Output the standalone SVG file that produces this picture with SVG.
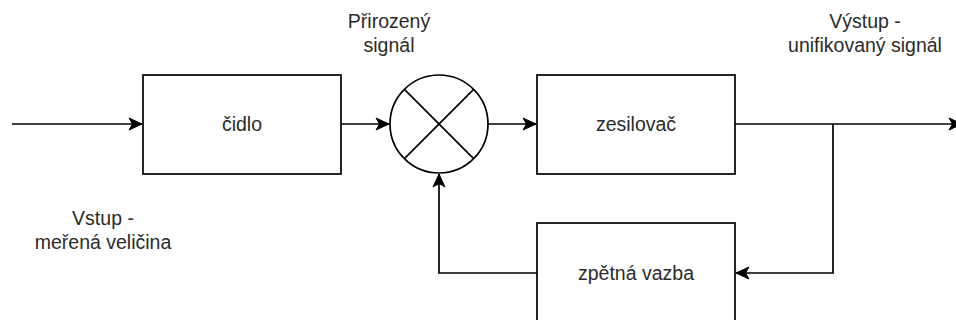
<svg xmlns="http://www.w3.org/2000/svg" width="956" height="320" viewBox="0 0 956 320">
  <style>
    .box { fill: #ffffff; stroke: #000000; stroke-width: 1.7; }
    .wire { fill: none; stroke: #000000; stroke-width: 1.7; }
    .lbl { font-family: "Liberation Sans", Arial, Helvetica, sans-serif; font-size: 19.5px; fill: #2b2b2b; text-anchor: middle; }
  </style>
  <defs>
    <marker id="arrow" markerUnits="userSpaceOnUse" markerWidth="16" markerHeight="16" viewBox="-14 -8 16 16" refX="0" refY="0" orient="auto">
      <path d="M0,0 L-13,-6 L-9.5,0 L-13,6 Z" fill="#000000" stroke="#000000" stroke-width="1"/>
    </marker>
  </defs>
  <rect width="956" height="320" fill="#ffffff"/>

  <g id="connectors">
    <path class="wire" d="M12,124 L142,124" marker-end="url(#arrow)"/>
    <path class="wire" d="M341,124 L389,124" marker-end="url(#arrow)"/>
    <path class="wire" d="M488,124 L536,124" marker-end="url(#arrow)"/>
    <path class="wire" d="M735,124 L962,124" marker-end="url(#arrow)"/>
    <path class="wire" d="M833,124 L833,273 L736,273" marker-end="url(#arrow)"/>
    <path class="wire" d="M537,273 L439,273 L439,174" marker-end="url(#arrow)"/>
  </g>

  <g id="cidlo">
    <rect class="box" x="143" y="75" width="198" height="99"/>
    <text class="lbl" x="242" y="131">čidlo</text>
  </g>

  <g id="soucet">
    <circle class="box" cx="439" cy="124" r="49"/>
    <path class="wire" d="M404.4,89.4 L473.6,158.6 M473.6,89.4 L404.4,158.6"/>
  </g>

  <g id="zesilovac">
    <rect class="box" x="537" y="75" width="198" height="99"/>
    <text class="lbl" x="636" y="131">zesilovač</text>
  </g>

  <g id="zpetna-vazba">
    <rect class="box" x="537" y="223" width="198" height="99"/>
    <text class="lbl" x="636" y="280">zpětná vazba</text>
  </g>

  <g id="label-prirozeny">
    <text class="lbl" x="389" y="28">Přirozený</text>
    <text class="lbl" x="389" y="52">signál</text>
  </g>

  <g id="label-vystup">
    <text class="lbl" x="865" y="28">Výstup -</text>
    <text class="lbl" x="865" y="52">unifikovaný signál</text>
  </g>

  <g id="label-vstup">
    <text class="lbl" x="103" y="225">Vstup -</text>
    <text class="lbl" x="103" y="249">meřená veličina</text>
  </g>
</svg>
